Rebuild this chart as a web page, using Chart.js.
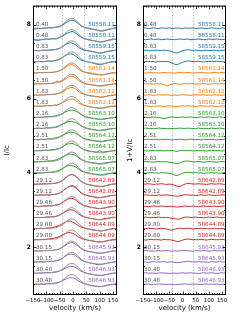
<!DOCTYPE html>
<html><head><meta charset="utf-8">
<script src="https://cdn.jsdelivr.net/npm/chart.js@4/dist/chart.umd.min.js"></script>
<style>
html,body{margin:0;padding:0;background:#fff;width:249px;height:323px;overflow:hidden}
canvas{position:absolute;top:0}
#ca{left:0}
#cb{left:124px}
</style></head><body>
<canvas id="ca" width="124" height="323"></canvas>
<canvas id="cb" width="125" height="323"></canvas>
<script>
// ---------- data ----------
const velocity = [-150,-140,-130,-120,-110,-100,-90,-80,-70,-60,-50,-40,-30,-20,-10,0,10,20,30,40,50,60,70,80,90,100,110,120,130,140,150,160,170];
const phases = ['0.48','0.48','0.83','0.83','1.50','1.50','1.83','1.83','2.16','2.16','2.51','2.51','2.83','2.83','29.12','29.12','29.46','29.46','29.80','29.80','30.15','30.15','30.48','30.48'];
const mjds = ['58558.11','58558.11','58559.15','58559.15','58561.14','58561.14','58562.12','58562.12','58563.10','58563.10','58564.12','58564.12','58565.07','58565.07','58642.89','58642.89','58643.90','58643.90','58644.89','58644.89','58645.93','58645.93','58646.93','58646.93'];
const offsets = [6.9,6.6,6.3,6.0,5.7,5.4,5.1,4.8,4.5,4.2,3.9,3.6,3.3,3.0,2.7,2.4,2.1,1.8,1.5,1.2,0.9,0.6,0.3,0.0];
const profileColors = ['#1f77b4','#1f77b4','#1f77b4','#1f77b4','#ff7f0e','#ff7f0e','#ff7f0e','#ff7f0e','#2ca02c','#2ca02c','#2ca02c','#2ca02c','#2ca02c','#2ca02c','#d62728','#d62728','#d62728','#d62728','#d62728','#d62728','#9467bd','#9467bd','#9467bd','#9467bd'];
const xTickValues = [-150,-100,-50,0,50,100,150];
const yTickValues = [2,4,6,8];
const guideVelocities = [-40,40];

// Stokes I profiles (I/Ic)
const i048a = [0.99,0.98,1.00,0.99,1.01,1.00,1.02,1.01,1.02,1.03,1.04,1.08,1.13,1.18,1.21,1.22,1.18,1.12,1.06,1.03,1.01,1.00,0.98,0.97,0.95,0.93,0.92,0.94,0.96,0.98,1.00,1.01,1.00];
const i048b = [1.00,0.98,0.97,0.99,1.00,1.01,1.00,1.02,1.01,1.02,1.05,1.08,1.13,1.17,1.20,1.21,1.17,1.11,1.06,1.02,1.01,0.99,0.98,0.96,0.94,0.93,0.93,0.95,0.97,0.99,1.01,1.00,1.01];
const i083a = [0.99,1.00,0.99,1.00,1.01,1.00,1.01,1.02,1.02,1.04,1.06,1.10,1.15,1.19,1.21,1.19,1.15,1.09,1.04,1.01,1.00,0.99,0.98,0.96,0.94,0.93,0.94,0.96,0.98,0.99,1.00,1.01,1.00];
const i083b = [1.00,0.99,1.01,1.00,1.00,1.01,1.02,1.01,1.03,1.04,1.07,1.11,1.16,1.20,1.21,1.20,1.15,1.09,1.04,1.02,1.00,0.99,0.97,0.95,0.93,0.92,0.93,0.95,0.97,0.99,1.00,1.00,1.01];
const i150a = [1.00,0.99,1.00,1.01,1.00,1.01,1.00,1.01,1.02,1.03,1.05,1.08,1.13,1.18,1.22,1.21,1.16,1.10,1.05,1.02,1.01,1.00,0.99,0.97,0.96,0.95,0.95,0.96,0.97,0.99,1.00,1.01,1.00];
const i150b = [0.99,1.00,1.01,1.00,1.01,1.00,1.02,1.01,1.03,1.08,1.04,1.08,1.12,1.17,1.21,1.20,1.16,1.10,1.05,1.02,1.00,0.99,0.98,0.97,0.95,0.95,0.96,0.97,0.98,0.99,1.00,1.00,1.01];
const i183a = [1.00,1.00,0.99,1.01,1.00,1.01,1.01,1.02,1.02,1.03,1.05,1.08,1.12,1.17,1.20,1.20,1.16,1.10,1.05,1.02,1.00,0.99,0.98,0.97,0.96,0.95,0.95,0.96,0.98,0.99,1.00,1.01,1.00];
const i183b = [0.99,1.00,1.00,1.00,1.01,1.02,1.01,1.01,1.03,1.03,1.06,1.09,1.13,1.17,1.19,1.19,1.15,1.09,1.05,1.02,1.01,0.99,0.98,0.96,0.96,0.95,0.96,0.97,0.98,1.00,1.00,1.01,1.00];
const i216a = [1.00,0.99,1.00,1.00,1.01,1.01,1.02,1.02,1.03,1.05,1.07,1.10,1.14,1.17,1.19,1.19,1.17,1.13,1.08,1.04,1.01,1.00,0.98,0.97,0.96,0.95,0.95,0.96,0.97,0.98,0.99,1.00,1.00];
const i216b = [0.99,1.00,1.01,1.00,1.00,1.02,1.01,1.03,1.03,1.05,1.08,1.11,1.14,1.18,1.19,1.18,1.16,1.12,1.07,1.03,1.01,0.99,0.98,0.97,0.95,0.95,0.96,0.96,0.98,0.99,1.00,1.00,1.01];
const i251a = [1.00,1.00,0.99,1.01,1.00,1.01,1.02,1.02,1.04,1.05,1.08,1.11,1.15,1.18,1.20,1.19,1.17,1.12,1.07,1.03,1.01,1.00,0.98,0.97,0.96,0.96,0.95,0.97,0.98,0.99,1.00,1.01,1.00];
const i251b = [0.99,1.00,1.00,1.00,1.01,1.01,1.01,1.03,1.03,1.05,1.07,1.10,1.15,1.18,1.19,1.19,1.16,1.12,1.07,1.03,1.01,0.99,0.98,0.97,0.96,1.00,0.96,0.97,0.98,0.99,1.00,1.00,1.01];
const i283a = [1.00,0.99,1.00,1.01,1.01,1.02,1.02,1.03,1.04,1.06,1.09,1.13,1.17,1.20,1.21,1.20,1.17,1.12,1.06,1.03,1.01,0.99,0.98,0.97,0.96,0.95,0.96,0.97,0.98,0.99,1.00,1.00,1.00];
const i283b = [0.99,1.00,1.00,1.00,1.01,1.01,1.02,1.02,1.04,1.05,1.08,1.12,1.16,1.19,1.20,1.19,1.16,1.11,1.06,1.03,1.01,1.00,0.98,0.97,0.96,0.95,0.95,0.97,0.98,0.99,1.00,1.01,1.00];
const i2912a = [1.00,0.99,1.00,1.00,1.01,1.00,1.01,1.01,1.02,1.03,1.05,1.09,1.15,1.21,1.25,1.25,1.21,1.14,1.07,1.03,1.00,0.98,0.97,0.95,0.94,0.93,0.93,0.95,0.97,0.99,1.00,1.01,1.00];
const i2912b = [0.99,1.00,1.00,1.01,1.00,1.01,1.00,1.02,1.02,1.03,1.06,1.10,1.16,1.21,1.24,1.24,1.20,1.13,1.06,1.02,1.00,0.98,0.96,0.95,0.93,0.93,0.94,0.96,0.97,0.99,1.00,1.00,1.01];
const i2946a = [1.00,1.00,0.99,1.00,1.01,1.01,1.02,1.01,1.03,1.04,1.06,1.10,1.15,1.19,1.22,1.21,1.17,1.11,1.06,1.02,1.00,0.99,0.97,0.96,0.94,0.94,0.95,0.96,0.98,0.99,1.00,1.01,1.00];
const i2946b = [0.99,1.00,1.00,1.00,1.00,1.01,1.01,1.02,1.02,1.04,1.07,1.11,1.15,1.19,1.21,1.20,1.16,1.10,1.05,1.02,1.00,0.98,0.97,0.96,0.94,0.94,0.95,0.97,0.98,0.99,1.01,1.00,1.00];
const i2980a = [1.00,0.99,1.00,1.01,1.00,1.01,1.02,1.02,1.04,1.06,1.09,1.13,1.17,1.20,1.20,1.17,1.13,1.08,1.04,1.02,1.00,0.99,0.97,0.96,0.95,0.94,0.94,0.96,0.97,0.99,1.00,1.00,1.00];
const i2980b = [0.99,1.00,1.00,1.00,1.01,1.01,1.02,1.03,1.04,1.06,1.09,1.13,1.16,1.19,1.19,1.17,1.13,1.08,1.04,1.01,1.00,0.98,0.97,0.96,0.94,0.94,0.95,0.96,0.98,0.99,1.00,1.01,1.00];
const i3015a = [1.00,1.00,0.99,1.00,1.01,1.00,1.01,1.01,1.02,1.03,1.05,1.09,1.14,1.19,1.22,1.22,1.18,1.12,1.06,1.02,1.00,0.98,0.97,0.95,0.94,0.93,0.94,0.95,0.97,0.99,1.00,1.00,1.00];
const i3015b = [0.99,1.00,1.00,1.01,1.00,1.01,1.01,1.02,1.02,1.04,1.06,1.10,1.15,1.19,1.21,1.21,1.17,1.11,1.05,1.02,1.00,0.98,0.96,0.95,0.93,0.93,0.94,0.96,0.97,0.99,1.00,1.01,1.00];
const i3048a = [1.00,0.99,1.00,1.00,1.01,1.01,1.01,1.02,1.03,1.04,1.06,1.09,1.13,1.16,1.18,1.18,1.15,1.10,1.05,1.02,1.00,0.98,0.97,0.95,0.94,0.94,0.94,0.96,0.97,0.99,1.00,1.00,1.01];
const i3048b = [0.99,1.00,1.00,1.01,1.00,1.01,1.02,1.02,1.03,1.04,1.06,1.09,1.13,1.16,1.18,1.17,1.14,1.09,1.05,1.02,1.00,0.98,0.96,0.95,0.94,0.93,0.94,0.96,0.98,0.99,1.00,1.01,1.00];
// model I profile (grey)
const modelI = [1.00,1.00,1.00,1.00,1.00,1.01,1.01,1.01,1.02,1.03,1.06,1.10,1.16,1.22,1.26,1.26,1.22,1.15,1.08,1.03,1.00,0.98,0.97,0.96,0.95,0.94,0.94,0.95,0.97,0.98,0.99,1.00,1.00];

// Stokes V profiles (1+V/Ic)
const v048a = [1.00,1.01,0.99,1.00,1.01,1.00,0.99,1.01,1.00,1.00,1.01,0.99,1.00,1.01,1.00,0.99,1.01,1.00,1.00,1.01,0.99,1.00,1.01,1.00,0.99,1.00,1.01,1.00,1.00,0.99,1.01,1.00,1.00];
const v048b = [1.00,0.99,1.00,1.01,1.00,1.00,1.01,0.99,1.00,1.01,1.00,1.00,0.99,1.00,1.01,1.00,1.00,1.01,0.99,1.00,1.00,1.01,1.00,0.99,1.00,1.01,1.00,1.00,1.01,1.00,0.99,1.00,1.01];
const v083a = [1.00,1.01,1.00,0.99,1.00,1.01,1.00,1.00,1.01,1.00,0.99,0.97,0.94,0.93,0.96,0.99,1.01,1.02,1.01,1.00,1.01,1.00,0.99,1.00,1.01,1.00,1.00,1.01,1.00,0.99,1.00,1.01,1.00];
const v083b = [1.00,1.00,1.01,1.00,1.00,0.99,1.01,1.00,1.00,1.01,0.99,0.96,0.93,0.92,0.95,0.98,1.00,1.02,1.01,1.00,1.00,1.01,1.00,0.99,1.00,1.01,1.00,1.00,1.01,1.00,1.00,0.99,1.00];
const v150a = [1.00,0.99,1.00,1.01,1.00,1.00,0.99,1.00,1.01,1.00,1.00,0.99,0.99,1.00,1.01,1.00,1.00,1.01,1.00,0.99,1.00,1.00,1.01,1.00,1.00,0.99,1.00,1.01,1.00,1.00,1.01,1.00,1.00];
const v150b = [1.00,1.01,1.00,1.00,0.99,1.01,1.00,1.00,0.98,0.94,0.97,1.00,1.01,1.00,0.99,1.00,1.01,1.00,1.00,1.01,0.99,1.00,1.00,1.01,1.00,0.99,1.00,1.01,1.00,1.00,1.01,1.00,1.00];
const v183a = [1.00,1.00,1.01,1.00,0.99,1.00,1.01,1.00,1.00,1.01,1.00,0.99,1.00,0.99,1.00,1.01,1.00,1.00,0.99,1.00,1.01,1.00,1.00,1.01,0.99,1.00,1.00,1.01,1.00,1.00,0.99,1.01,1.00];
const v183b = [1.00,1.01,1.00,0.99,1.00,1.00,1.01,1.00,0.99,1.00,1.01,1.00,0.99,0.99,1.00,1.01,1.00,1.01,1.00,1.00,0.99,1.00,1.01,1.00,1.00,1.00,1.01,1.00,0.99,1.00,1.01,1.00,1.00];
const v216a = [1.00,1.00,0.99,1.00,1.01,1.00,1.00,0.98,0.96,0.98,1.00,1.01,1.00,0.99,1.00,1.01,1.00,1.00,1.01,1.00,0.99,1.00,1.01,1.00,1.00,1.01,1.00,0.99,1.00,1.01,1.00,1.00,1.00];
const v216b = [1.00,1.01,1.00,1.00,0.99,1.00,1.01,1.00,1.00,0.99,1.00,1.00,0.99,1.00,1.01,1.00,1.00,1.01,1.00,1.00,0.99,1.01,1.00,1.00,1.00,0.99,1.01,1.00,1.00,1.01,1.00,0.99,1.00];
const v251a = [0.99,1.00,1.01,1.00,1.00,1.01,0.99,1.00,1.00,1.01,1.00,0.99,1.00,1.00,1.01,1.00,0.99,1.00,1.01,1.00,1.00,1.00,0.99,1.01,1.00,1.00,1.01,1.00,0.99,1.00,1.00,1.01,1.00];
const v251b = [1.00,1.00,0.99,1.01,1.00,1.00,1.00,1.01,0.99,1.00,1.00,1.01,0.99,0.98,1.00,1.01,1.00,1.00,1.01,0.99,1.00,1.01,1.00,1.00,0.99,1.00,1.01,1.00,1.00,1.00,0.99,1.00,1.01];
const v283a = [1.00,1.01,1.00,1.00,0.99,1.00,1.01,1.00,1.00,1.00,0.99,0.98,0.96,0.95,0.97,1.00,1.02,1.02,1.01,1.00,1.00,1.01,1.00,0.99,1.00,1.01,1.00,1.00,0.99,1.00,1.01,1.00,1.00];
const v283b = [1.00,0.99,1.00,1.01,1.00,1.00,0.99,1.01,1.00,1.00,0.99,0.97,0.94,0.93,0.96,0.99,1.01,1.02,1.01,1.00,1.01,1.00,1.00,0.99,1.00,1.00,1.01,1.00,1.00,0.99,1.00,1.01,1.00];
const v2912a = [1.00,1.00,1.01,1.00,0.99,1.00,1.00,1.01,1.00,0.99,1.00,0.99,0.97,0.94,0.93,0.97,1.00,1.02,1.01,1.00,1.00,1.01,1.00,1.00,0.99,1.00,1.01,1.00,1.00,1.01,1.00,0.99,1.00];
const v2912b = [1.00,1.01,1.00,1.00,1.00,0.99,1.01,1.00,1.00,1.01,1.00,0.99,0.98,0.97,0.98,1.00,1.01,1.01,1.00,1.00,0.99,1.00,1.01,1.00,1.00,1.01,1.00,0.99,1.00,1.00,1.01,1.00,1.00];
const v2946a = [1.00,1.00,0.99,1.00,1.01,1.00,1.00,1.01,1.00,0.99,1.00,1.00,0.99,0.98,0.99,1.00,1.01,1.00,1.00,1.01,1.00,0.99,1.00,1.01,1.00,1.00,1.00,1.01,0.99,1.00,1.00,1.01,1.00];
const v2946b = [1.00,1.01,1.00,0.99,1.00,1.00,1.01,1.00,1.00,1.00,0.99,0.98,0.97,0.95,0.96,0.99,1.01,1.01,1.00,1.00,1.01,1.00,1.00,0.99,1.00,1.01,1.00,1.00,1.01,1.00,0.99,1.00,1.00];
const v2980a = [1.00,1.00,1.01,1.00,1.00,0.99,1.00,1.01,1.00,0.99,0.97,0.96,0.98,1.00,1.01,1.00,1.00,1.01,1.00,0.99,1.00,1.00,1.01,1.00,1.00,0.99,1.00,1.01,1.00,1.00,1.00,1.01,1.00];
const v2980b = [1.00,0.99,1.00,1.01,1.00,1.00,1.00,0.99,1.01,1.00,1.00,0.99,0.97,0.95,0.96,0.99,1.01,1.02,1.01,1.00,1.00,1.00,1.01,1.00,0.99,1.00,1.01,1.00,1.00,1.00,1.01,1.00,1.00];
const v3015a = [1.00,1.01,1.00,1.00,0.99,1.00,1.01,1.00,1.00,1.01,1.00,0.99,1.00,0.99,1.00,1.01,1.01,1.00,1.00,0.99,1.01,1.00,1.00,1.01,1.00,0.99,1.00,1.01,1.00,1.00,1.00,1.01,1.00];
const v3015b = [1.00,1.00,0.99,1.00,1.01,1.00,1.00,1.00,1.01,0.99,1.00,1.00,0.99,0.98,0.99,1.00,1.01,1.02,1.01,1.00,1.00,1.01,1.00,1.00,1.00,0.99,1.01,1.00,1.00,1.01,1.00,1.00,1.01];
const v3048a = [1.00,1.01,1.00,1.00,1.00,0.99,1.00,1.01,1.00,1.00,0.99,1.00,1.00,0.99,1.00,1.01,1.00,1.00,1.01,1.00,1.00,0.99,1.00,1.01,1.00,1.00,1.01,1.00,0.99,1.00,1.01,1.00,1.00];
const v3048b = [1.00,1.00,1.01,0.99,1.00,1.00,1.01,1.00,1.00,0.99,1.00,1.00,0.99,0.99,1.00,1.00,1.01,1.00,1.00,1.01,1.00,1.00,0.99,1.00,1.01,1.00,1.00,1.00,1.01,0.99,1.00,1.00,1.00];

const intensityProfiles = [i048a,i048b,i083a,i083b,i150a,i150b,i183a,i183b,i216a,i216b,i251a,i251b,i283a,i283b,i2912a,i2912b,i2946a,i2946b,i2980a,i2980b,i3015a,i3015b,i3048a,i3048b];
const stokesVProfiles = [v048a,v048b,v083a,v083b,v150a,v150b,v183a,v183b,v216a,v216b,v251a,v251b,v283a,v283b,v2912a,v2912b,v2946a,v2946b,v2980a,v2980b,v3015a,v3015b,v3048a,v3048b];

// ---------- drawing ----------
const FONT = 'DejaVu Sans';
const fmt = v => (v < 0 ? '\u2212' + Math.abs(v) : String(v));

function makePanel(canvasId, profiles, withModel, yTitle, g) {
  const datasets = [];
  if (withModel) {
    profiles.forEach((p, i) => datasets.push({
      data: velocity.map((v, k) => ({x: v, y: modelI[k] + offsets[i]})),
      borderColor: '#8c8c8c', borderWidth: 0.9, pointRadius: 0, tension: 0
    }));
  }
  profiles.forEach((p, i) => datasets.push({
    data: velocity.map((v, k) => ({x: v, y: p[k] + offsets[i]})),
    borderColor: profileColors[i], borderWidth: 1, pointRadius: 0, tension: 0
  }));

  const decor = {
    id: 'decor',
    beforeDatasetsDraw(chart) {
      const {ctx, chartArea: a, scales: {x}} = chart;
      ctx.save();
      ctx.strokeStyle = '#b0b0b0'; ctx.lineWidth = 0.8; ctx.setLineDash([1.5, 1.5]);
      guideVelocities.forEach(v => {
        const px = Math.round(x.getPixelForValue(v)) + 0.5;
        ctx.beginPath(); ctx.moveTo(px, a.top); ctx.lineTo(px, a.bottom); ctx.stroke();
      });
      ctx.restore();
    },
    afterDatasetsDraw(chart) {
      const {ctx, chartArea: a, scales: {x, y}} = chart;
      ctx.save();
      ctx.font = '5.6px "' + FONT + '"';
      ctx.textBaseline = 'middle';
      offsets.forEach((o, i) => {
        const py = y.getPixelForValue(o + 1.1);
        ctx.textAlign = 'left'; ctx.fillStyle = '#555';
        ctx.fillText(phases[i], x.getPixelForValue(g.leftLabelV), py);
        ctx.textAlign = 'right'; ctx.fillStyle = profileColors[i];
        ctx.fillText(mjds[i], x.getPixelForValue(g.rightLabelV), py);
      });
      // frame
      ctx.strokeStyle = '#000'; ctx.lineWidth = 1;
      ctx.strokeRect(a.left + 0.5, a.top + 0.5, a.right - a.left - 1, a.bottom - a.top - 1);
      // inward ticks
      ctx.lineWidth = 0.8;
      ctx.beginPath();
      for (let v = -150; v <= 160; v += 10) {
        const px = Math.round(x.getPixelForValue(v)) + 0.5;
        const len = (v % 50 === 0) ? 3.5 : 2;
        ctx.moveTo(px, a.bottom); ctx.lineTo(px, a.bottom - len);
        ctx.moveTo(px, a.top); ctx.lineTo(px, a.top + len);
      }
      for (let v = 1; v <= 8.5; v += 0.5) {
        const py = Math.round(y.getPixelForValue(v)) + 0.5;
        const len = (v % 2 === 0) ? 3.5 : 2;
        ctx.moveTo(a.left, py); ctx.lineTo(a.left + len, py);
        ctx.moveTo(a.right, py); ctx.lineTo(a.right - len, py);
      }
      ctx.stroke();
      ctx.restore();
    }
  };

  return new Chart(document.getElementById(canvasId), {
    type: 'line',
    data: {datasets},
    plugins: [decor],
    options: {
      responsive: false, animation: false, devicePixelRatio: 1,
      layout: {padding: {left: 0, top: g.top, right: g.right, bottom: 0}},
      plugins: {legend: {display: false}, tooltip: {enabled: false}},
      scales: {
        x: {
          type: 'linear', min: -150, max: 165,
          afterBuildTicks: s => { s.ticks = xTickValues.map(v => ({value: v})); },
          afterFit: s => { s.height = g.xHeight; },
          grid: {display: false, drawTicks: false}, border: {display: false},
          ticks: {autoSkip: false, maxRotation: 0, minRotation: 0, padding: 2, color: '#000',
                  font: {family: FONT, size: 5.4}, callback: v => fmt(v)},
          title: {display: true, text: 'velocity (km/s)', color: '#000',
                  font: {family: FONT, size: 7}, padding: {top: 0, bottom: g.xTitlePad}}
        },
        y: {
          type: 'linear', min: 0.71, max: 8.51,
          afterBuildTicks: s => { s.ticks = yTickValues.map(v => ({value: v})); },
          afterFit: s => { s.width = g.yWidth; },
          grid: {display: false, drawTicks: false}, border: {display: false},
          ticks: {padding: 2, color: '#000', font: {family: FONT, size: 6, weight: 'bold'}},
          title: {display: true, text: yTitle, color: '#000',
                  font: {family: FONT, size: 7}, padding: {top: g.yTitlePad, bottom: 0}}
        }
      }
    }
  });
}

makePanel('ca', intensityProfiles, true, 'I/Ic',
  {top: 5, right: 7, xHeight: 28, yWidth: 33, xTitlePad: 11, yTitlePad: 3, leftLabelV: -139, rightLabelV: 157});
makePanel('cb', stokesVProfiles, false, '1+V/Ic',
  {top: 5, right: 23, xHeight: 28, yWidth: 19, xTitlePad: 11, yTitlePad: 2, leftLabelV: -146, rightLabelV: 160});
</script>
</body></html>
